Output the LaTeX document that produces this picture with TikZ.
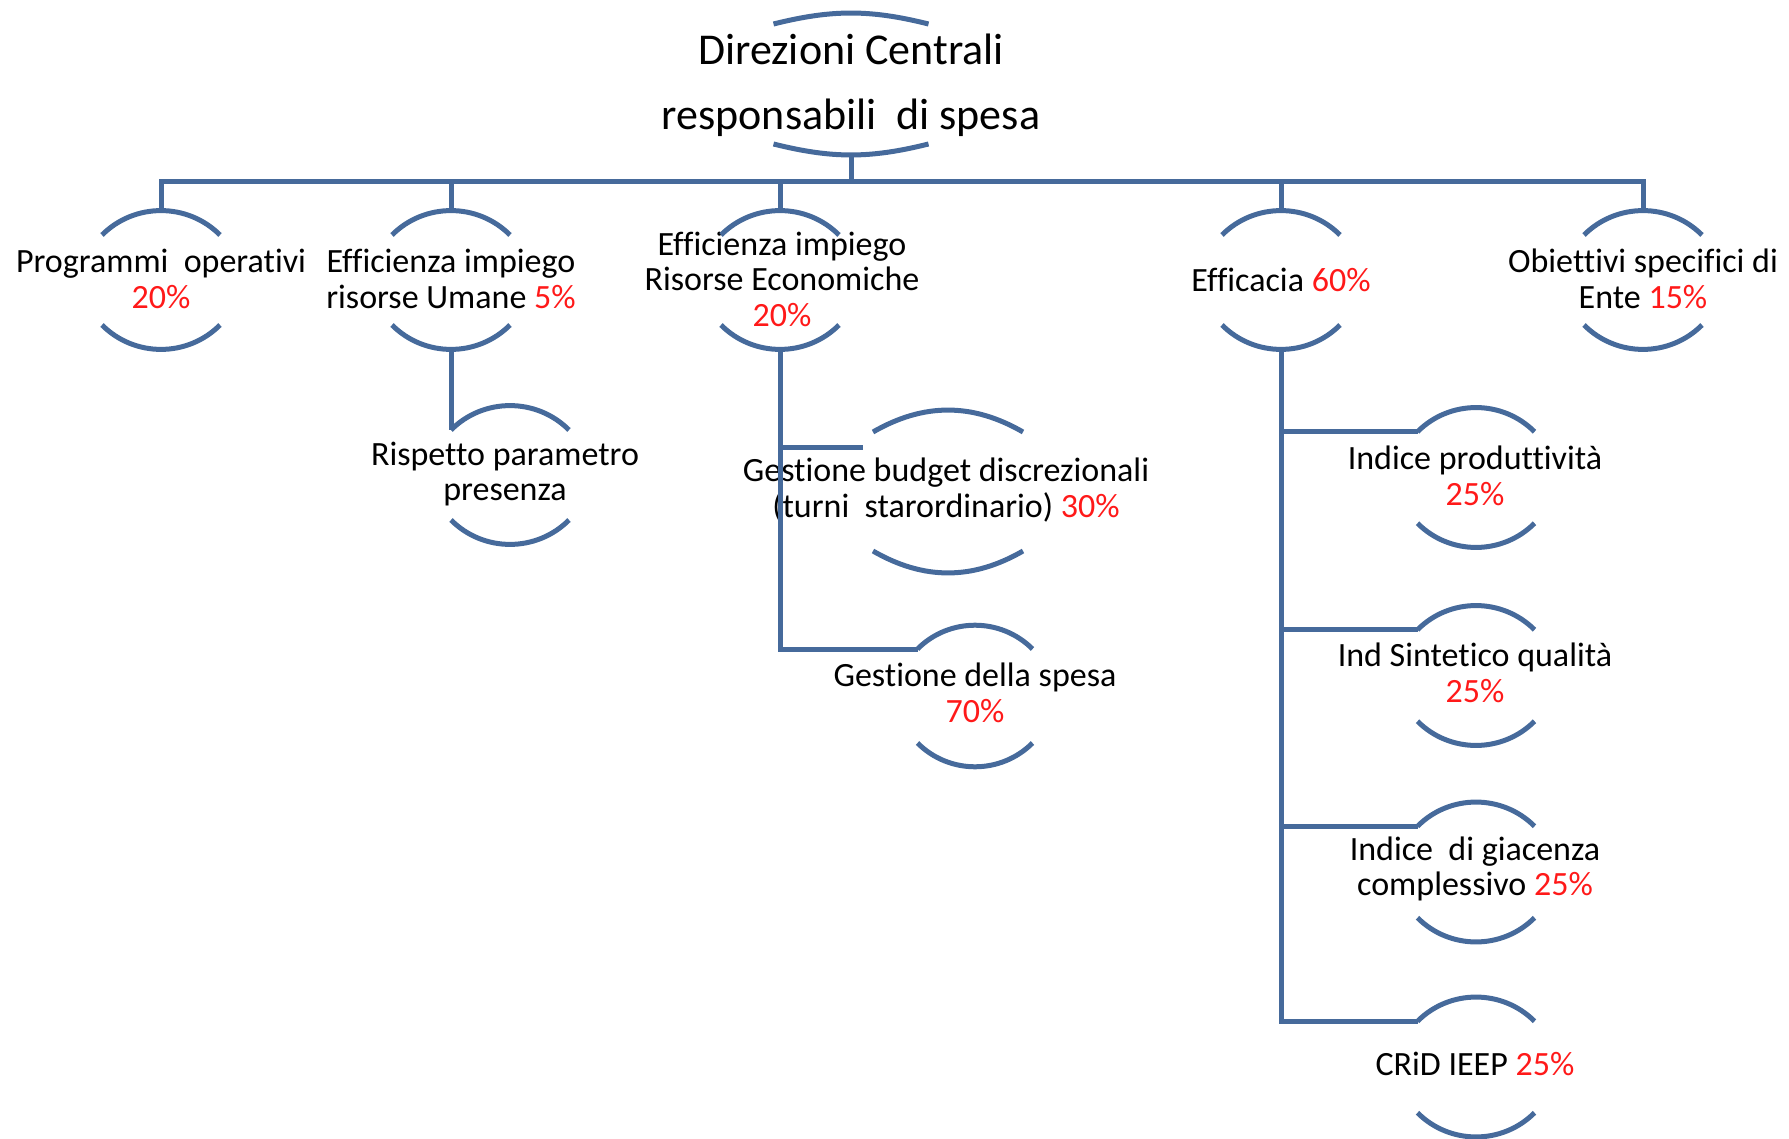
\documentclass[tikz,border=0pt]{standalone}
\usepackage{fontspec}
\setmainfont{Carlito}[Ligatures=NoCommon]
\definecolor{lineblue}{RGB}{70,106,155}
\definecolor{pctred}{RGB}{255,25,25}
\newcommand\redpc[1]{\textcolor{pctred}{#1}}
% a pair of opposite arcs framing a node: name, sag of the arc ends, bend angle
\newcommand\bracepair[3]{%
  \draw[conn] ([yshift=-#2pt]#1.north west) to[bend left=#3] ([yshift=-#2pt]#1.north east);
  \draw[conn] ([yshift=#2pt]#1.south west) to[bend right=#3] ([yshift=#2pt]#1.south east);
}
\begin{document}
\begin{tikzpicture}[x=1pt,y=-1pt,
  conn/.style={draw=lineblue, line width=5pt},
  frame/.style 2 args={minimum width=#1pt, minimum height=#2pt, inner sep=0pt, outer sep=0pt},
  txt/.style={align=center, inner sep=0pt, text=black, font=\fontsize{34}{35.5}\selectfont},
  titletxt/.style={align=center, inner sep=0pt, text=black, font=\fontsize{44}{65}\selectfont}]
\useasboundingbox (0,0) rectangle (1789,1139);

% texts
\node[titletxt] (ttitle) at (851,85) {Direzioni Centrali\\responsabili~ di spesa};
\node[txt] (t1) at (161,279) {Programmi~ operativi\\\redpc{20\%}};
\node[txt] (t2) at (451,279) {Efficienza impiego\\risorse Umane \redpc{5\%}};
\node[txt] (t3) at (782,279) {Efficienza impiego\\Risorse Economiche\\\redpc{20\%}};
\node[txt] (t4) at (1281,280) {Efficacia \redpc{60\%}};
\node[txt] (t5) at (1643,279) {Obiettivi specifici di\\Ente \redpc{15\%}};
\node[txt] (tr1) at (505,474) {Rispetto parametro\\presenza};
\node[txt] (tgb) at (946,490) {Gestione budget discrezionali\\(turni~ starordinario) \redpc{30\%}};
\node[txt] (tgs) at (975,693) {Gestione della spesa\\\redpc{70\%}};
\node[txt] (te1) at (1475,476) {Indice produttività\\\redpc{25\%}};
\node[txt] (te2) at (1475,673) {Ind Sintetico qualità\\\redpc{25\%}};
\node[txt] (te3) at (1475,869) {Indice~ di giacenza\\complessivo \redpc{25\%}};
\node[txt] (te4) at (1475,1064) {CRiD IEEP \redpc{25\%}};

% frames carrying the arcs
\node[frame={155}{142}] (title) at (851,84) {};
\node[frame={118}{138}] (n1) at (161,280) {};
\node[frame={118}{138}] (n2) at (451,280) {};
\node[frame={118}{138}] (n3) at (780,280) {};
\node[frame={118}{138}] (n4) at (1281,280) {};
\node[frame={118}{138}] (n5) at (1643,280) {};
\node[frame={118}{138}] (r1) at (510,475) {};
\node[frame={150}{163}] (gb) at (948,491.5) {};
\node[frame={115}{142}] (gs) at (975,696) {};
\node[frame={117}{139.5}] (e1) at (1476,477.5) {};
\node[frame={117}{139.5}] (e2) at (1476,675.5) {};
\node[frame={117}{139.5}] (e3) at (1476,872) {};
\node[frame={117}{139.5}] (e4) at (1476,1067) {};

\bracepair{title}{11}{14}
\foreach \n in {n1,n2,n3,n4,n5,r1,e1,e2,e3,e4} {\bracepair{\n}{24}{45}}
\bracepair{gb}{22}{30}
\bracepair{gs}{24}{45}

% connectors
\coordinate (bus) at (0,182);
\draw[conn] (title.south) -- (title.south |- bus);
\draw[conn] (n1.north) -- (n1.north |- bus) -- (n5.north |- bus) -- (n5.north);
\foreach \n in {n2,n3,n4} {\draw[conn] (\n.north) -- (\n.north |- bus);}
\draw[conn] (n2.south) -- ([yshift=-24pt]r1.north west);
\draw[conn] (n3.south) |- ([yshift=-24pt]gs.north west);
\draw[conn] (n3.south) |- ([xshift=-10pt,yshift=-38pt]gb.north west);
\foreach \n in {e1,e2,e3,e4} {\draw[conn] (n4.south) |- ([yshift=-24pt]\n.north west);}
\end{tikzpicture}
\end{document}
